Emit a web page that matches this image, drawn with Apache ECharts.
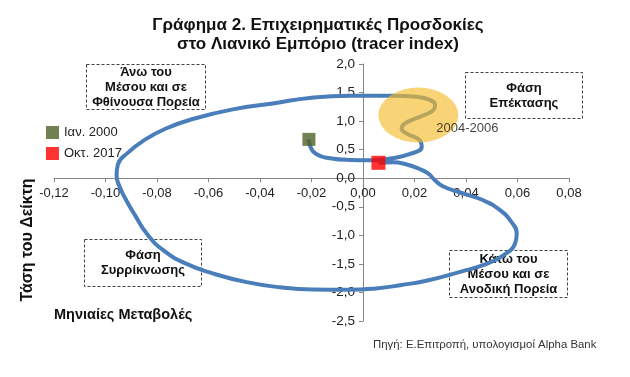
<!DOCTYPE html>
<html>
<head>
<meta charset="utf-8">
<script src="https://cdn.jsdelivr.net/npm/echarts@6/dist/echarts.min.js"></script>
<style>
  html, body { margin: 0; padding: 0; background: #fff; }
  #chart { width: 630px; height: 377px; }
</style>
</head>
<body>
<div id="chart"></div>
<script>
// tracer path, Jan 2000 -> Oct 2017
const tracerX = [
  -0.021, -0.0205, -0.018, -0.0128, -0.005, 0.003, 0.0105, 0.018, 0.0228, 0.022,
  0.017, 0.015, 0.0163, 0.022, 0.0273, 0.028, 0.026, 0.0209, 0.0105, -0.005,
  -0.02, -0.035, -0.05, -0.065, -0.0765, -0.0855, -0.0915, -0.0952, -0.0957,
  -0.0945, -0.092, -0.0885, -0.084, -0.0776, -0.0685, -0.0581, -0.0452, -0.0322, -0.0193,
  -0.006, 0.005, 0.015, 0.025, 0.0377, 0.048, 0.0545, 0.059, 0.0597, 0.0577, 0.0532,
  0.0467, 0.0377, 0.031, 0.0278, 0.0254, 0.0215, 0.017, 0.0118, 0.006
];
const tracerY = [
  0.68, 0.56, 0.42, 0.35, 0.32, 0.315, 0.345, 0.42, 0.55, 0.667,
  0.78, 0.87, 0.96, 1.075, 1.19, 1.28, 1.37, 1.425, 1.445, 1.445,
  1.41, 1.31, 1.21, 1.05, 0.87, 0.65, 0.44, 0.24, 0.05,
  -0.15, -0.38, -0.65, -0.97, -1.26, -1.5, -1.67, -1.82, -1.91, -1.95,
  -1.955, -1.93, -1.87, -1.79, -1.64, -1.5, -1.35, -1.15, -0.97, -0.77, -0.56,
  -0.386, -0.25, -0.14, -0.03, 0.08, 0.17, 0.24, 0.28, 0.27
];
const startPoint = [-0.021, 0.68];
const endPoint = [0.006, 0.27];
const highlightCenter = [0.0215, 1.105];
const startName = 'Ιαν. 2000';
const endName = 'Οκτ. 2017';
const highlightLabel = '2004-2006';

const xMin = -0.12, xMax = 0.08, xStep = 0.02;
const yMin = -2.5, yMax = 2.0, yStep = 0.5;

const fontFamily = '"Liberation Sans", Arial, sans-serif';

const chart = echarts.init(document.getElementById('chart'));

const box = (x, y, w, h, text) => ({
  type: 'group',
  left: x,
  top: y,
  children: [
    {
      type: 'rect',
      shape: { x: 0, y: 0, width: w, height: h },
      style: { fill: null, stroke: '#404040', lineWidth: 1, lineDash: [3, 2] }
    },
    {
      type: 'text',
      x: w / 2,
      y: h / 2,
      style: {
        text,
        fill: '#111',
        font: 'bold 13px ' + fontFamily,
        align: 'center',
        verticalAlign: 'middle',
        lineHeight: 15
      }
    }
  ]
});

chart.setOption({
  animation: false,
  title: {
    text: 'Γράφημα 2. Επιχειρηματικές Προσδοκίες\nστο Λιανικό Εμπόριο (tracer index)',
    left: 318,
    textAlign: 'center',
    top: 16,
    padding: 0,
    textStyle: {
      fontFamily,
      fontSize: 17,
      fontWeight: 'bold',
      color: '#111',
      lineHeight: 19
    }
  },
  legend: {
    orient: 'vertical',
    left: 46,
    top: 126,
    padding: 0,
    itemWidth: 13,
    itemHeight: 13,
    itemGap: 8,
    icon: 'rect',
    data: [startName, endName],
    textStyle: { fontFamily, fontSize: 13, color: '#222' }
  },
  grid: { left: 54, right: 61, top: 64, bottom: 56 },
  xAxis: {
    type: 'value',
    min: xMin,
    max: xMax,
    interval: xStep,
    axisLine: { show: true, onZero: false, lineStyle: { color: '#868686' } },
    axisTick: { show: true, length: 4, lineStyle: { color: '#868686' } },
    splitLine: { show: false },
    axisLabel: {
      fontFamily,
      fontSize: 13,
      color: '#222',
      margin: 9,
      formatter: v => (Math.abs(v) < 1e-9 ? 0 : v).toFixed(2).replace('.', ',')
    }
  },
  yAxis: {
    type: 'value',
    min: yMin,
    max: yMax,
    interval: yStep,
    axisLine: { show: true, onZero: false, lineStyle: { color: '#868686' } },
    axisTick: { show: true, length: 4, lineStyle: { color: '#868686' } },
    splitLine: { show: false },
    axisLabel: {
      fontFamily,
      fontSize: 13.5,
      color: '#222',
      margin: 8,
      formatter: v => (Math.abs(v) < 1e-9 ? 0 : v).toFixed(1).replace('.', ',')
    }
  },
  series: [
    {
      type: 'line',
      smooth: 0.5,
      showSymbol: false,
      data: tracerX.map((x, i) => [x, tracerY[i]]),
      lineStyle: { color: '#4A7EBB', width: 4 },
      z: 2
    },
    {
      type: 'scatter',
      data: [highlightCenter],
      symbol: 'circle',
      symbolSize: [80, 55],
      itemStyle: { color: 'rgba(246,188,40,0.8)' },
      label: {
        show: true,
        position: 'inside',
        offset: [49, 13],
        formatter: highlightLabel,
        fontFamily,
        fontSize: 13,
        color: '#111'
      },
      z: 3
    },
    {
      name: startName,
      type: 'scatter',
      data: [startPoint],
      symbol: 'rect',
      symbolSize: 13,
      itemStyle: { color: '#4F6228' },
      z: 4
    },
    {
      name: endName,
      type: 'scatter',
      data: [endPoint],
      symbol: 'rect',
      symbolSize: 14,
      itemStyle: { color: '#FF0000' },
      z: 4
    }
  ],
  graphic: [
    box(84, 62, 119, 45, 'Άνω του\nΜέσου και σε\nΦθίνουσα Πορεία'),
    box(463, 70, 117, 46, 'Φάση\nΕπέκτασης'),
    box(82, 237, 117, 47, 'Φάση\nΣυρρίκνωσης'),
    box(447, 248, 118, 47, 'Κάτω του\nΜέσου και σε\nΑνοδική Πορεία'),
    {
      type: 'text',
      x: 28,
      y: 240,
      rotation: Math.PI / 2,
      style: {
        text: 'Τάση του Δείκτη',
        font: 'bold 16px ' + fontFamily,
        fill: '#111',
        align: 'center',
        verticalAlign: 'middle'
      }
    },
    {
      type: 'text',
      left: 54,
      top: 307,
      style: {
        text: 'Μηνιαίες Μεταβολές',
        font: 'bold 14.5px ' + fontFamily,
        fill: '#111'
      }
    },
    {
      type: 'text',
      left: 373,
      top: 339,
      style: {
        text: 'Πηγή: Ε.Επιτροπή, υπολογισμοί Alpha Bank',
        font: '11.4px ' + fontFamily,
        fill: '#333'
      }
    }
  ]
});

// axes cross at the origin: shift them there using the chart's own scales
const origin = chart.convertToPixel({ gridIndex: 0 }, [0, 0]);
const corner = chart.convertToPixel({ gridIndex: 0 }, [xMin, yMin]);
chart.setOption({
  xAxis: { offset: origin[1] - corner[1] },
  yAxis: { offset: corner[0] - origin[0] }
});
</script>
</body>
</html>
